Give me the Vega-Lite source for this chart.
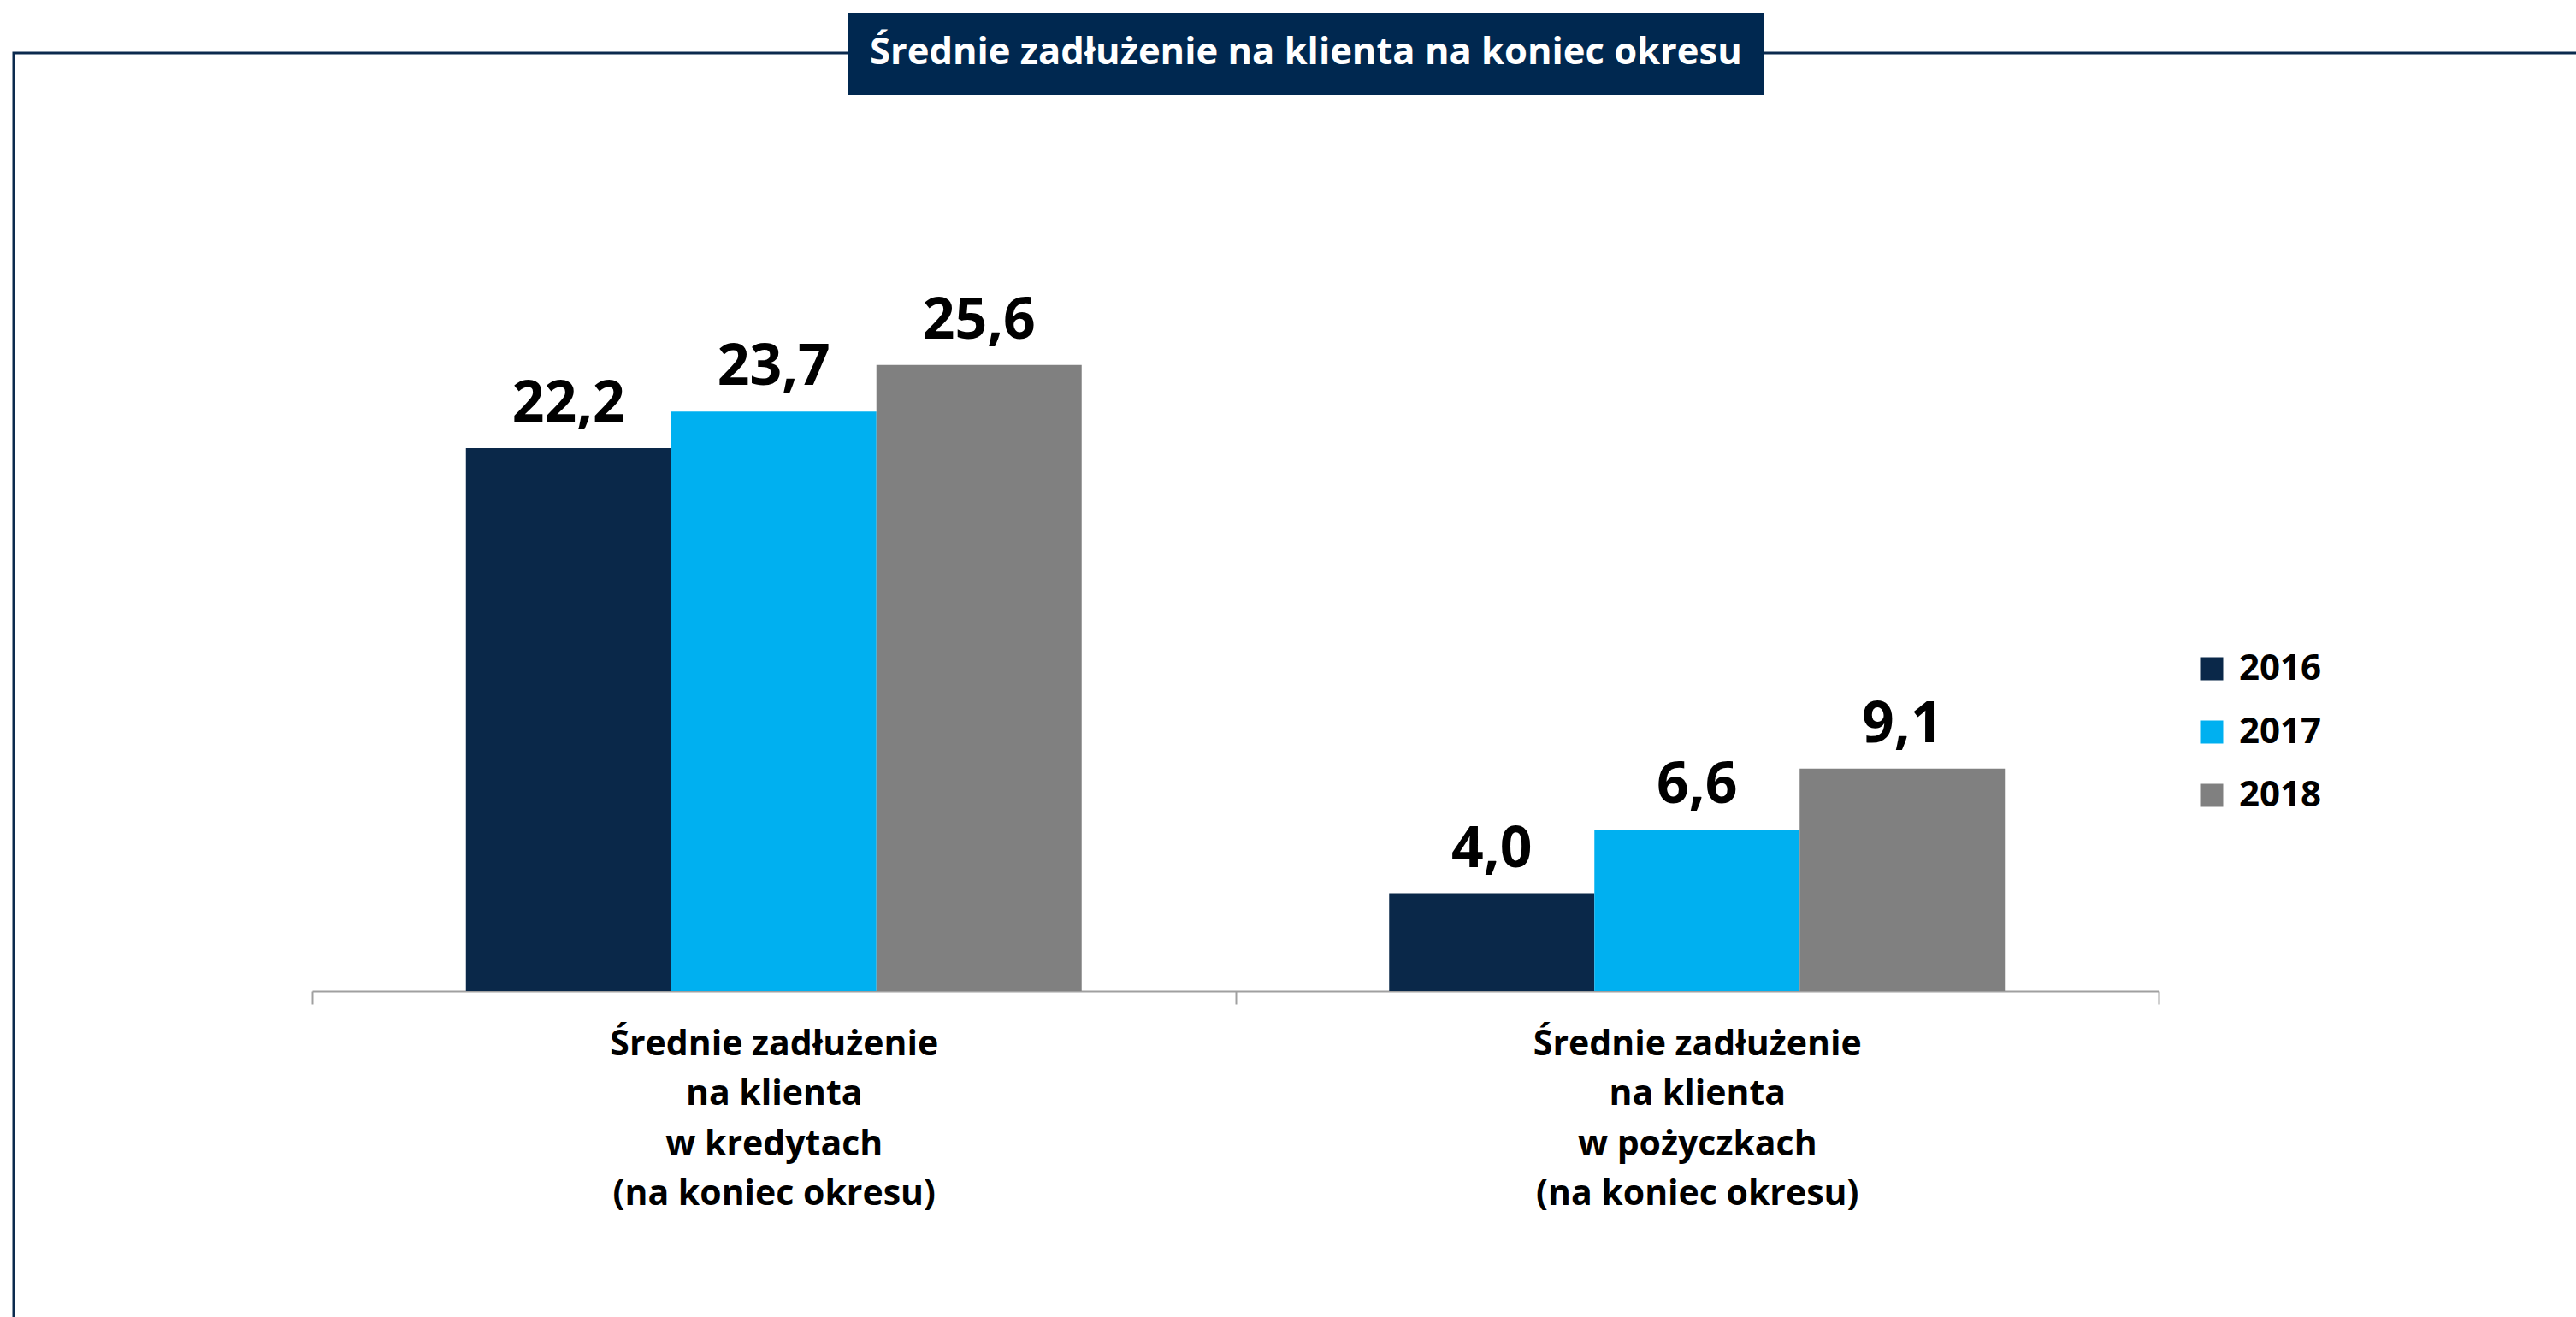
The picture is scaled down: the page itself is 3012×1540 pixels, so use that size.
{
  "$schema": "https://vega.github.io/schema/vega-lite/v6.json",
  "autosize": {"type": "none"},
  "width": 3010,
  "height": 1490,
  "padding": {"left": 16, "top": 62, "right": 0, "bottom": 0},
  "background": "white",
  "config": {
    "font": "Open Sans",
    "locale": {"number": {"decimal": ",", "thousands": " ", "grouping": [3], "currency": ["", " zł"]}},
    "view": {"stroke": "#0B2A4E", "strokeWidth": 3}
  },
  "data": {
    "values": [
      {"kategoria": "Średnie zadłużenie\nna klienta\nw kredytach\n(na koniec okresu)", "rok": "2016", "wartosc": 22.2},
      {"kategoria": "Średnie zadłużenie\nna klienta\nw kredytach\n(na koniec okresu)", "rok": "2017", "wartosc": 23.7},
      {"kategoria": "Średnie zadłużenie\nna klienta\nw kredytach\n(na koniec okresu)", "rok": "2018", "wartosc": 25.6},
      {"kategoria": "Średnie zadłużenie\nna klienta\nw pożyczkach\n(na koniec okresu)", "rok": "2016", "wartosc": 4.0},
      {"kategoria": "Średnie zadłużenie\nna klienta\nw pożyczkach\n(na koniec okresu)", "rok": "2017", "wartosc": 6.6},
      {"kategoria": "Średnie zadłużenie\nna klienta\nw pożyczkach\n(na koniec okresu)", "rok": "2018", "wartosc": 9.1}
    ]
  },
  "encoding": {
    "x": {
      "field": "kategoria", "type": "nominal", "sort": null,
      "scale": {"range": [349, 2508], "paddingInner": 0, "paddingOuter": 0},
      "axis": {
        "title": null, "orient": "bottom", "offset": -393,
        "domainColor": "#A0A0A0", "domainWidth": 2,
        "tickColor": "#A0A0A0", "tickWidth": 2, "tickSize": 15, "tickBand": "extent",
        "labelAngle": 0, "labelFont": "Open Sans", "labelFontWeight": "bold", "labelFontSize": 41,
        "labelColor": "black", "labelPadding": 27, "labelLineHeight": 58.5, "labelBaseline": "top",
        "labelExpr": "split(datum.label, '\\n')", "labelLimit": 0
      }
    },
    "xOffset": {"field": "rok", "type": "nominal", "scale": {"paddingOuter": 0.749, "paddingInner": 0}},
    "y": {"field": "wartosc", "type": "quantitative", "scale": {"domain": [0, 30], "range": [1097, 239]}, "axis": null}
  },
  "layer": [
    {
      "mark": {"type": "bar"},
      "encoding": {
        "color": {
          "field": "rok", "type": "nominal",
          "scale": {"range": ["#0A2849", "#00B0F0", "#808080"]},
          "legend": {
            "title": null, "orient": "none", "legendX": 2549, "legendY": 699,
            "symbolType": "square", "symbolSize": 729, "symbolStrokeWidth": 0,
            "labelFontSize": 42, "labelFont": "Open Sans", "labelFontWeight": "bold", "labelColor": "black",
            "labelOffset": 11, "rowPadding": 32
          }
        },
        "strokeDash": {
          "datum": "t",
          "legend": {
            "title": "Średnie zadłużenie na klienta na koniec okresu",
            "orient": "none", "legendX": 975, "legendY": -47,
            "fillColor": "#002850", "padding": 26,
            "titleColor": "white", "titleFontSize": 43.5, "titleFont": "Open Sans", "titleFontWeight": "bold",
            "titleLimit": 0, "titlePadding": 0,
            "symbolSize": 0, "symbolOpacity": 0, "symbolStrokeWidth": 0,
            "labelFontSize": 1, "labelOpacity": 0, "labelOffset": 0, "labelExpr": "''"
          }
        }
      }
    },
    {
      "mark": {"type": "text", "baseline": "alphabetic", "dy": -31, "fontSize": 66, "fontWeight": "bold", "color": "black"},
      "encoding": {"text": {"field": "wartosc", "type": "quantitative", "format": ".1f"}}
    }
  ]
}
